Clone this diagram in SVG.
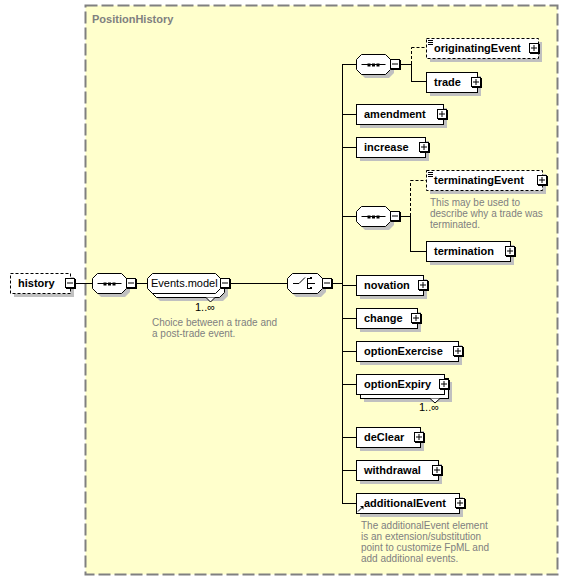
<svg xmlns="http://www.w3.org/2000/svg" xmlns:xlink="http://www.w3.org/1999/xlink" width="569" height="581" viewBox="0 0 569 581">
<style>
.el{font-family:"Liberation Sans",Arial,sans-serif;font-size:11px;font-weight:bold;fill:#000}
.nm{font-family:"Liberation Sans",Arial,sans-serif;font-size:11px;fill:#000}
.ds{font-family:"Liberation Sans",Arial,sans-serif;font-size:10px;fill:#808080}
.ttl{font-family:"Liberation Sans",Arial,sans-serif;font-size:11px;font-weight:bold;fill:#808080}
.box{fill:#fff;stroke:#000;stroke-width:1}
.opt{fill:#fff;stroke:#000;stroke-width:1;stroke-dasharray:3 2}
.sh{fill:#c0c0c0}
.ln{stroke:#000;stroke-width:1;fill:none}
.dl{stroke:#000;stroke-width:1;fill:none;stroke-dasharray:3 2}
</style>
<defs>
<g id="minus"><rect x="1" y="1" width="10" height="10" fill="#000"/><rect x="0.5" y="0.5" width="9" height="9" fill="#fff" stroke="#000"/><line x1="2" y1="5" x2="8" y2="5" stroke="#000"/></g>
<g id="plus"><rect x="1" y="1" width="10" height="10" fill="#000"/><rect x="0.5" y="0.5" width="9" height="9" fill="#fff" stroke="#000"/><line x1="2" y1="5" x2="8" y2="5" stroke="#000"/><line x1="5" y1="2" x2="5" y2="8" stroke="#000"/></g>
<g id="seqicon"><line x1="-12" y1="0" x2="12" y2="0" stroke="#000"/><rect x="-6" y="-1" width="3" height="3" fill="#000"/><rect x="-1.5" y="-1" width="3" height="3" fill="#000"/><rect x="3" y="-1" width="3" height="3" fill="#000"/></g>
</defs>

<g id="PositionHistory">
<rect x="85.5" y="5.5" width="472" height="569" fill="#ffffcc" stroke="#808080" stroke-width="2" stroke-dasharray="12 4"/>
<text class="ttl" x="92" y="23">PositionHistory</text>
</g>

<g id="connectors">
<line class="ln" x1="76" y1="283.5" x2="92" y2="283.5"/>
<line class="ln" x1="137" y1="283.5" x2="147" y2="283.5"/>
<line class="ln" x1="231" y1="283.5" x2="287" y2="283.5"/>
<line class="ln" x1="333" y1="283.5" x2="342.5" y2="283.5"/>
<line class="ln" x1="342.5" y1="64" x2="342.5" y2="503"/>
<line class="ln" x1="342" y1="64.5" x2="356" y2="64.5"/>
<line class="ln" x1="342" y1="114.5" x2="356" y2="114.5"/>
<line class="ln" x1="342" y1="147.5" x2="356" y2="147.5"/>
<line class="ln" x1="342" y1="216.5" x2="356" y2="216.5"/>
<line class="ln" x1="342" y1="285.5" x2="356" y2="285.5"/>
<line class="ln" x1="342" y1="318.5" x2="356" y2="318.5"/>
<line class="ln" x1="342" y1="351.5" x2="356" y2="351.5"/>
<line class="ln" x1="342" y1="384.5" x2="356" y2="384.5"/>
<line class="ln" x1="342" y1="437.5" x2="356" y2="437.5"/>
<line class="ln" x1="342" y1="470.5" x2="356" y2="470.5"/>
<line class="ln" x1="342" y1="503.5" x2="356" y2="503.5"/>
<line class="ln" x1="401" y1="64.5" x2="411.5" y2="64.5"/>
<line class="dl" x1="411.5" y1="64" x2="411.5" y2="47.5"/>
<line class="dl" x1="411.5" y1="47.5" x2="426" y2="47.5"/>
<line class="ln" x1="411.5" y1="64" x2="411.5" y2="82"/>
<line class="ln" x1="411" y1="81.5" x2="426" y2="81.5"/>
<line class="ln" x1="401" y1="216.5" x2="410.5" y2="216.5"/>
<line class="dl" x1="410.5" y1="216" x2="410.5" y2="180.5"/>
<line class="dl" x1="410.5" y1="180.5" x2="426" y2="180.5"/>
<line class="ln" x1="410.5" y1="216" x2="410.5" y2="252"/>
<line class="ln" x1="410" y1="251.5" x2="426" y2="251.5"/>
</g>

<g id="history">
<rect class="sh" x="14" y="277" width="60" height="20"/>
<rect class="opt" x="10.5" y="273.5" width="60" height="20"/>
<text class="el" x="18" y="287">history</text>
<use xlink:href="#minus" href="#minus" x="65" y="278"/>
</g>

<g id="seq_main">
<polygon class="sh" points="101,277 125,277 130,282 130,292 125,297 101,297 96,292 96,282"/>
<polygon class="box" points="97.5,273.5 121.5,273.5 126.5,278.5 126.5,288.5 121.5,293.5 97.5,293.5 92.5,288.5 92.5,278.5"/>
<use xlink:href="#seqicon" href="#seqicon" x="109.5" y="283.5"/>
<use xlink:href="#minus" href="#minus" x="126" y="278"/>
</g>

<g id="Events.model">
<polygon class="sh" points="160,281 223,281 228,286 228,296 223,301 160,301 155,296 155,286"/>
<polygon class="box" points="156.5,277.5 219.5,277.5 224.5,282.5 224.5,292.5 219.5,297.5 156.5,297.5 151.5,292.5 151.5,282.5"/>
<polygon class="box" points="152.5,273.5 215.5,273.5 220.5,278.5 220.5,288.5 215.5,293.5 152.5,293.5 147.5,288.5 147.5,278.5"/>
<polyline class="box" points="206,297.5 210.5,302 215,297.5"/>
<text class="nm" x="151" y="287">Events.model</text>
<use xlink:href="#minus" href="#minus" x="220" y="278"/>
<text class="nm" x="195" y="311">1..∞</text>
<text class="ds" x="152" y="326">Choice between a trade and</text>
<text class="ds" x="152" y="337">a post-trade event.</text>
</g>

<g id="choice">
<polygon class="sh" points="296,277 321,277 326,282 326,292 321,297 296,297 291,292 291,282"/>
<polygon class="box" points="292.5,273.5 317.5,273.5 322.5,278.5 322.5,288.5 317.5,293.5 292.5,293.5 287.5,288.5 287.5,278.5"/>
<path class="ln" d="M293,283.5 H299 L305,277.5 M307.5,278 V289 M307.5,278.5 H311 M307.5,283.5 H315 M307.5,288.5 H311"/>
<rect x="310" y="277" width="2" height="2" fill="#000"/>
<rect x="310" y="287" width="2" height="2" fill="#000"/>
<use xlink:href="#minus" href="#minus" x="322" y="278"/>
</g>

<g id="seq_1">
<polygon class="sh" points="365,58 389,58 394,63 394,73 389,78 365,78 360,73 360,63"/>
<polygon class="box" points="361.5,54.5 385.5,54.5 390.5,59.5 390.5,69.5 385.5,74.5 361.5,74.5 356.5,69.5 356.5,59.5"/>
<use xlink:href="#seqicon" href="#seqicon" x="373.5" y="64.5"/>
<use xlink:href="#minus" href="#minus" x="390" y="59"/>
</g>

<g id="originatingEvent">
<rect class="sh" x="430" y="42" width="112" height="20"/>
<rect class="opt" x="426.5" y="38.5" width="112" height="20"/>
<path class="ln" d="M428,40.5 H433 M428,42.5 H433 M428,44.5 H433"/>
<text class="el" x="434" y="52">originatingEvent</text>
<use xlink:href="#plus" href="#plus" x="529" y="43"/>
</g>

<g id="trade">
<rect class="sh" x="430" y="76" width="51" height="20"/>
<rect class="box" x="426.5" y="72.5" width="51" height="20"/>
<text class="el" x="434" y="86">trade</text>
<use xlink:href="#plus" href="#plus" x="471" y="77"/>
</g>

<g id="amendment">
<rect class="sh" x="360" y="108" width="87" height="20"/>
<rect class="box" x="356.5" y="104.5" width="87" height="20"/>
<text class="el" x="364" y="118">amendment</text>
<use xlink:href="#plus" href="#plus" x="437" y="109"/>
</g>

<g id="increase">
<rect class="sh" x="360" y="141" width="69" height="20"/>
<rect class="box" x="356.5" y="137.5" width="69" height="20"/>
<text class="el" x="364" y="151">increase</text>
<use xlink:href="#plus" href="#plus" x="419" y="142"/>
</g>

<g id="seq_2">
<polygon class="sh" points="365,210 389,210 394,215 394,225 389,230 365,230 360,225 360,215"/>
<polygon class="box" points="361.5,206.5 385.5,206.5 390.5,211.5 390.5,221.5 385.5,226.5 361.5,226.5 356.5,221.5 356.5,211.5"/>
<use xlink:href="#seqicon" href="#seqicon" x="373.5" y="216.5"/>
<use xlink:href="#minus" href="#minus" x="390" y="211"/>
</g>

<g id="terminatingEvent">
<rect class="sh" x="430" y="174" width="116" height="20"/>
<rect class="opt" x="426.5" y="170.5" width="116" height="20"/>
<path class="ln" d="M428,172.5 H433 M428,174.5 H433 M428,176.5 H433"/>
<text class="el" x="434" y="184">terminatingEvent</text>
<use xlink:href="#plus" href="#plus" x="537" y="175"/>
<text class="ds" x="430" y="206">This may be used to</text>
<text class="ds" x="430" y="217">describe why a trade was</text>
<text class="ds" x="430" y="228">terminated.</text>
</g>

<g id="termination">
<rect class="sh" x="430" y="245" width="84" height="20"/>
<rect class="box" x="426.5" y="241.5" width="84" height="20"/>
<text class="el" x="434" y="255">termination</text>
<use xlink:href="#plus" href="#plus" x="505" y="246"/>
</g>

<g id="novation">
<rect class="sh" x="360" y="279" width="67" height="20"/>
<rect class="box" x="356.5" y="275.5" width="67" height="20"/>
<text class="el" x="364" y="289">novation</text>
<use xlink:href="#plus" href="#plus" x="418" y="280"/>
</g>

<g id="change">
<rect class="sh" x="360" y="312" width="61" height="20"/>
<rect class="box" x="356.5" y="308.5" width="61" height="20"/>
<text class="el" x="364" y="322">change</text>
<use xlink:href="#plus" href="#plus" x="411" y="313"/>
</g>

<g id="optionExercise">
<rect class="sh" x="360" y="345" width="102" height="20"/>
<rect class="box" x="356.5" y="341.5" width="102" height="20"/>
<text class="el" x="364" y="355">optionExercise</text>
<use xlink:href="#plus" href="#plus" x="453" y="346"/>
</g>

<g id="optionExpiry">
<rect class="sh" x="364" y="382" width="88" height="20"/>
<rect class="box" x="360.5" y="378.5" width="88" height="20"/>
<rect class="box" x="356.5" y="374.5" width="88" height="20"/>
<polyline class="box" points="430,398.5 435,403 440,398.5"/>
<text class="el" x="364" y="388">optionExpiry</text>
<use xlink:href="#plus" href="#plus" x="439" y="379"/>
<text class="nm" x="419" y="411">1..∞</text>
</g>

<g id="deClear">
<rect class="sh" x="360" y="431" width="64" height="20"/>
<rect class="box" x="356.5" y="427.5" width="64" height="20"/>
<text class="el" x="364" y="441">deClear</text>
<use xlink:href="#plus" href="#plus" x="414" y="432"/>
</g>

<g id="withdrawal">
<rect class="sh" x="360" y="464" width="82" height="20"/>
<rect class="box" x="356.5" y="460.5" width="82" height="20"/>
<text class="el" x="364" y="474">withdrawal</text>
<use xlink:href="#plus" href="#plus" x="432" y="465"/>
</g>

<g id="additionalEvent">
<rect class="sh" x="360" y="497" width="103" height="20"/>
<rect class="box" x="356.5" y="493.5" width="103" height="20"/>
<path class="ln" d="M358,511.5 L362,507.5"/>
<polygon points="360,506 363.5,506 363.5,509.5" fill="#000"/>
<text class="el" x="364" y="507">additionalEvent</text>
<use xlink:href="#plus" href="#plus" x="455" y="498"/>
<text class="ds" x="361" y="529">The additionalEvent element</text>
<text class="ds" x="361" y="540">is an extension/substitution</text>
<text class="ds" x="361" y="551">point to customize FpML and</text>
<text class="ds" x="361" y="562">add additional events.</text>
</g>
</svg>
